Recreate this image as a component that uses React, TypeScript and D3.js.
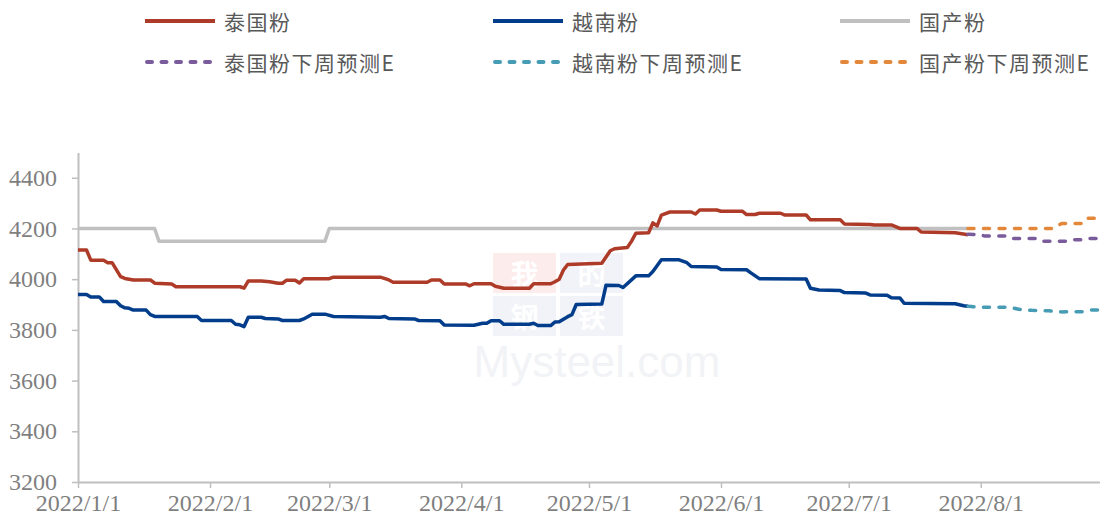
import React from "react";
import * as d3 from "d3";

// 泰国粉 (actual)
const thaiPowder: [string, number][] = [
  ["2022-01-01", 4115], ["2022-01-03", 4115], ["2022-01-04", 4075], ["2022-01-07", 4075],
  ["2022-01-08", 4065], ["2022-01-09", 4065], ["2022-01-11", 4010], ["2022-01-12", 4003],
  ["2022-01-14", 3997], ["2022-01-18", 3997], ["2022-01-19", 3984], ["2022-01-23", 3981],
  ["2022-01-24", 3970], ["2022-02-08", 3970], ["2022-02-09", 3965], ["2022-02-10", 3993],
  ["2022-02-13", 3993], ["2022-02-15", 3990], ["2022-02-17", 3984], ["2022-02-18", 3984],
  ["2022-02-19", 3996], ["2022-02-21", 3996], ["2022-02-22", 3985], ["2022-02-23", 4002],
  ["2022-03-01", 4002], ["2022-03-02", 4008], ["2022-03-13", 4008], ["2022-03-15", 3997],
  ["2022-03-16", 3988], ["2022-03-24", 3988], ["2022-03-25", 3997], ["2022-03-27", 3997],
  ["2022-03-28", 3981], ["2022-04-02", 3981], ["2022-04-03", 3974], ["2022-04-04", 3982],
  ["2022-04-08", 3982], ["2022-04-09", 3972], ["2022-04-11", 3964], ["2022-04-17", 3964],
  ["2022-04-18", 3982], ["2022-04-22", 3982], ["2022-04-23", 3990], ["2022-04-24", 4000],
  ["2022-04-25", 4036], ["2022-04-26", 4058], ["2022-05-04", 4063], ["2022-05-06", 4112],
  ["2022-05-07", 4120], ["2022-05-10", 4125], ["2022-05-11", 4150], ["2022-05-12", 4181],
  ["2022-05-15", 4183], ["2022-05-16", 4222], ["2022-05-17", 4210], ["2022-05-18", 4253],
  ["2022-05-20", 4265], ["2022-05-25", 4265], ["2022-05-26", 4257], ["2022-05-27", 4273],
  ["2022-05-31", 4273], ["2022-06-01", 4268], ["2022-06-06", 4268], ["2022-06-07", 4255],
  ["2022-06-09", 4255], ["2022-06-10", 4260], ["2022-06-15", 4260], ["2022-06-16", 4253],
  ["2022-06-21", 4253], ["2022-06-22", 4234], ["2022-06-29", 4234], ["2022-06-30", 4218],
  ["2022-07-06", 4216], ["2022-07-07", 4214], ["2022-07-11", 4214], ["2022-07-13", 4200],
  ["2022-07-17", 4200], ["2022-07-18", 4186], ["2022-07-26", 4183], ["2022-07-29", 4175],
];

// 越南粉 (actual)
const vietPowder: [string, number][] = [
  ["2022-01-01", 3940], ["2022-01-03", 3940], ["2022-01-04", 3930], ["2022-01-06", 3930],
  ["2022-01-07", 3912], ["2022-01-10", 3912], ["2022-01-11", 3895], ["2022-01-12", 3887],
  ["2022-01-13", 3885], ["2022-01-14", 3878], ["2022-01-17", 3878], ["2022-01-18", 3860],
  ["2022-01-19", 3853], ["2022-01-29", 3853], ["2022-01-30", 3837], ["2022-02-06", 3837],
  ["2022-02-07", 3822], ["2022-02-08", 3820], ["2022-02-09", 3813], ["2022-02-10", 3850],
  ["2022-02-13", 3850], ["2022-02-14", 3845], ["2022-02-17", 3843], ["2022-02-18", 3837],
  ["2022-02-22", 3837], ["2022-02-23", 3843], ["2022-02-25", 3862], ["2022-02-28", 3862],
  ["2022-03-02", 3853], ["2022-03-13", 3850], ["2022-03-14", 3853], ["2022-03-15", 3845],
  ["2022-03-21", 3843], ["2022-03-22", 3837], ["2022-03-27", 3836], ["2022-03-28", 3819],
  ["2022-04-04", 3818], ["2022-04-06", 3826], ["2022-04-07", 3826], ["2022-04-08", 3836],
  ["2022-04-10", 3836], ["2022-04-11", 3822], ["2022-04-17", 3822], ["2022-04-18", 3826],
  ["2022-04-19", 3817], ["2022-04-22", 3817], ["2022-04-23", 3831], ["2022-04-24", 3832],
  ["2022-04-26", 3852], ["2022-04-27", 3860], ["2022-04-28", 3900], ["2022-05-04", 3902],
  ["2022-05-05", 3976], ["2022-05-08", 3975], ["2022-05-09", 3967], ["2022-05-12", 4013],
  ["2022-05-15", 4013], ["2022-05-16", 4030], ["2022-05-18", 4077], ["2022-05-22", 4077],
  ["2022-05-24", 4065], ["2022-05-25", 4050], ["2022-05-31", 4048], ["2022-06-01", 4038],
  ["2022-06-07", 4037], ["2022-06-08", 4025], ["2022-06-10", 4002], ["2022-06-21", 4001],
  ["2022-06-22", 3964], ["2022-06-24", 3957], ["2022-06-29", 3955], ["2022-06-30", 3947],
  ["2022-07-05", 3945], ["2022-07-06", 3938], ["2022-07-10", 3937], ["2022-07-11", 3927],
  ["2022-07-13", 3926], ["2022-07-14", 3905], ["2022-07-26", 3903], ["2022-07-28", 3895],
  ["2022-07-29", 3893],
];

// 国产粉 (actual)
const domesticPowder: [string, number][] = [
  ["2022-01-01", 4200], ["2022-01-19", 4200], ["2022-01-20", 4150],
  ["2022-02-28", 4150], ["2022-03-01", 4200], ["2022-07-29", 4200],
];

// next-week forecasts
const thaiForecast: [string, number][] = [
  ["2022-07-29", 4177], ["2022-08-01", 4175], ["2022-08-02", 4170], ["2022-08-07", 4170],
  ["2022-08-08", 4160], ["2022-08-14", 4160], ["2022-08-15", 4150], ["2022-08-22", 4150],
  ["2022-08-23", 4155], ["2022-08-25", 4155], ["2022-08-26", 4160], ["2022-08-29", 4160],
];
const vietForecast: [string, number][] = [
  ["2022-07-29", 3893], ["2022-08-01", 3889], ["2022-08-08", 3889], ["2022-08-10", 3881],
  ["2022-08-13", 3877], ["2022-08-17", 3875], ["2022-08-20", 3871], ["2022-08-25", 3872],
  ["2022-08-27", 3878], ["2022-08-29", 3878],
];
const domesticForecast: [string, number][] = [
  ["2022-07-29", 4200], ["2022-08-18", 4200], ["2022-08-20", 4220],
  ["2022-08-25", 4220], ["2022-08-26", 4240], ["2022-08-29", 4240],
];

const yTicks = [3200, 3400, 3600, 3800, 4000, 4200, 4400];

const series = [
  { name: "泰国粉", data: thaiPowder, color: "#AE3B28", dashed: false },
  { name: "越南粉", data: vietPowder, color: "#023D8C", dashed: false },
  { name: "国产粉", data: domesticPowder, color: "#C0C0C0", dashed: false },
  { name: "泰国粉下周预测E", data: thaiForecast, color: "#7A5B9B", dashed: true },
  { name: "越南粉下周预测E", data: vietForecast, color: "#479CB5", dashed: true },
  { name: "国产粉下周预测E", data: domesticForecast, color: "#E3873A", dashed: true },
];

const W = 1100;
const H = 517;
const parse = d3.timeParse("%Y-%m-%d");
const DASH = "6 9.5";

const App = () => {
  const ref = React.useRef<SVGSVGElement>(null);

  React.useEffect(() => {
    const svg = d3.select(ref.current);
    svg.selectAll("*").remove();

    const x = d3.scaleTime()
      .domain([parse("2022-01-01")!, parse("2022-08-29")!])
      .range([78, 1100]);
    const y = d3.scaleLinear().domain([3200, 4500]).range([482, 152.4]);

    // faint watermark
    const wm = svg.append("g");
    const cells = [
      { t: "我", cx: 493, cy: 253, fill: "#fcecec" },
      { t: "的", cx: 560, cy: 253, fill: "#f1f3f8" },
      { t: "钢", cx: 493, cy: 296, fill: "#f1f3f8" },
      { t: "铁", cx: 560, cy: 296, fill: "#f1f3f8" },
    ];
    cells.forEach(c => {
      wm.append("rect").attr("x", c.cx).attr("y", c.cy).attr("width", 63).attr("height", 40).attr("fill", c.fill);
      wm.append("text").attr("x", c.cx + 31.5).attr("y", c.cy + 20)
        .attr("text-anchor", "middle").attr("dominant-baseline", "central")
        .style("font-family", "'Noto Sans CJK SC', serif")
        .style("font-size", "28px").style("font-weight", "bold").attr("fill", "#ffffff")
        .text(c.t);
    });
    wm.append("text").attr("x", 597).attr("y", 377).attr("text-anchor", "middle")
      .style("font-family", "'Liberation Sans', Arial, sans-serif").style("font-size", "44px")
      .attr("fill", "#f2f3f6").text("Mysteel.com");

    // axes
    const xAxis = svg.append("g").attr("transform", "translate(0,482)")
      .call(d3.axisBottom(x)
        .ticks(d3.timeMonth.every(1))
        .tickFormat(d3.timeFormat("%Y/%-m/%-d") as any)
        .tickSize(6).tickSizeOuter(0).tickPadding(6));
    const yAxis = svg.append("g").attr("transform", "translate(78,0)")
      .call(d3.axisLeft(y).tickValues(yTicks).tickFormat(d3.format("d"))
        .tickSize(6).tickSizeOuter(0).tickPadding(15));

    [xAxis, yAxis].forEach(a => {
      a.select(".domain").attr("stroke", "#BFBFBF").attr("stroke-width", 2);
      a.selectAll(".tick line").attr("stroke", "#BFBFBF").attr("stroke-width", 1.5);
      a.selectAll(".tick text")
        .attr("fill", "#7F7F7F")
        .style("font-family", "'Liberation Serif', 'Times New Roman', serif")
        .style("font-size", "24px");
    });

    // lines
    const line = d3.line<[string, number]>()
      .x(d => x(parse(d[0])!))
      .y(d => y(d[1]));

    const order = [2, 0, 1, 3, 4, 5];
    order.forEach(i => {
      const s = series[i];
      svg.append("path")
        .datum(s.data)
        .attr("d", line)
        .attr("fill", "none")
        .attr("stroke", s.color)
        .attr("stroke-width", 3.5)
        .attr("stroke-linejoin", "round")
        .attr("stroke-linecap", s.dashed ? "round" : "butt")
        .attr("stroke-dasharray", s.dashed ? DASH : null);
    });

    // legend
    const cols = [145, 493, 840];
    const rows = [21, 62];
    const lg = svg.append("g");
    series.forEach((s, i) => {
      const lx = cols[i % 3];
      const ly = rows[Math.floor(i / 3)];
      lg.append("line")
        .attr("x1", lx + (s.dashed ? 2 : 0)).attr("x2", lx + 70).attr("y1", ly).attr("y2", ly)
        .attr("stroke", s.color).attr("stroke-width", 4)
        .attr("stroke-linecap", s.dashed ? "round" : "butt")
        .attr("stroke-dasharray", s.dashed ? "5 9.5" : null);
      lg.append("text")
        .attr("x", lx + 79).attr("y", ly)
        .attr("dominant-baseline", "central")
        .attr("fill", "#595959")
        .style("font-family", "'Noto Sans CJK SC', sans-serif")
        .style("font-size", "21px")
        .style("letter-spacing", "1.5px")
        .text(s.name);
    });
  }, []);

  return (
    <svg ref={ref} width={W} height={H}
      style={{ position: "absolute", left: 0, top: 0, background: "#fff" }} />
  );
};

export default App;
